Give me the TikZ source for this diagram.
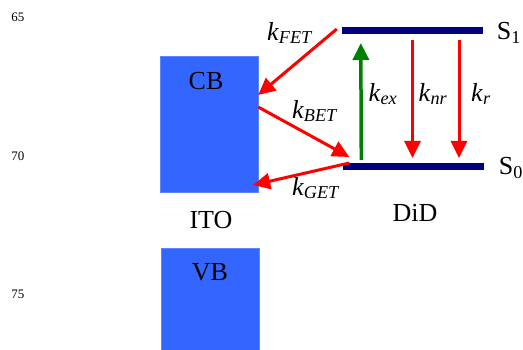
\documentclass[tikz,border=0pt]{standalone}
\usepackage{fontspec}
\setmainfont{Liberation Serif}
\usetikzlibrary{arrows.meta}
\definecolor{bandblue}{RGB}{51,102,255}
\definecolor{levelblue}{RGB}{0,0,128}
\definecolor{exgreen}{RGB}{0,128,0}
\newcommand{\rate}[1]{\textit{k}\textsubscript{\textit{#1}}}
\begin{document}
\begin{tikzpicture}[x=1pt,y=-1pt,
  band/.style={fill=bandblue,draw=bandblue!80!white,inner sep=0pt,minimum width=98pt},
  level/.style={fill=levelblue,inner sep=0pt,minimum width=141pt,minimum height=7pt},
  big/.style={font=\fontsize{26}{30}\selectfont},
  tick/.style={font=\fontsize{13}{15}\selectfont},
  transfer/.style={red,line width=3pt,-{Triangle[length=17pt,width=16pt]}},
  excite/.style={exgreen,line width=3.5pt,-{Triangle[length=17pt,width=16pt]}}]
\useasboundingbox (0,0) rectangle (523,350);
\node[tick] (t65) at (18,17) {65};
\node[tick] (t70) at (18,156) {70};
\node[tick] (t75) at (18,294) {75};
\node[band,minimum height=136pt] (cb) at (209,124) {};
\node[band,minimum height=104pt] (vb) at (210.5,300) {};
\node[big] (cblabel) at (206,81) {CB};
\node[big] (vblabel) at (210,272) {VB};
\node[big] (ito) at (211,220) {ITO};
\node[big] (did) at (415,213) {DiD};
\node[level] (s1) at (412.5,31) {};
\node[level] (s0) at (413,167) {};
\node[big] (s1label) at (509,33) {S\textsubscript{1}};
\node[big] (s0label) at (511,168) {S\textsubscript{0}};
\draw[transfer] ([xshift=-5pt,yshift=2pt]s1.west) -- ([yshift=29pt]cb.east);
\draw[transfer] ([yshift=17pt]cb.east) -- ([xshift=7pt,yshift=10pt]s0.west);
\draw[transfer] ([xshift=7pt,yshift=4pt]s0.west) -- ([xshift=-5pt,yshift=-61pt]cb.east);
\draw[excite] ([xshift=19pt,yshift=7pt]s0.west) -- ([xshift=19pt,yshift=-12pt]s1.west);
\draw[transfer] ([yshift=-9pt]s1.center) -- ([xshift=-0.5pt,yshift=9pt]s0.center);
\draw[transfer] ([xshift=46.5pt,yshift=-9pt]s1.center) -- ([xshift=46pt,yshift=9pt]s0.center);
\node[big] (kfet) at (290,33) {\rate{FET}};
\node[big] (kbet) at (315,111) {\rate{BET}};
\node[big] (kget) at (316,188) {\rate{GET}};
\node[big] (kex) at (383,94) {\rate{ex}};
\node[big] (knr) at (433,94) {\rate{nr}};
\node[big] (kr) at (481,94) {\rate{r}};
\end{tikzpicture}
\end{document}
